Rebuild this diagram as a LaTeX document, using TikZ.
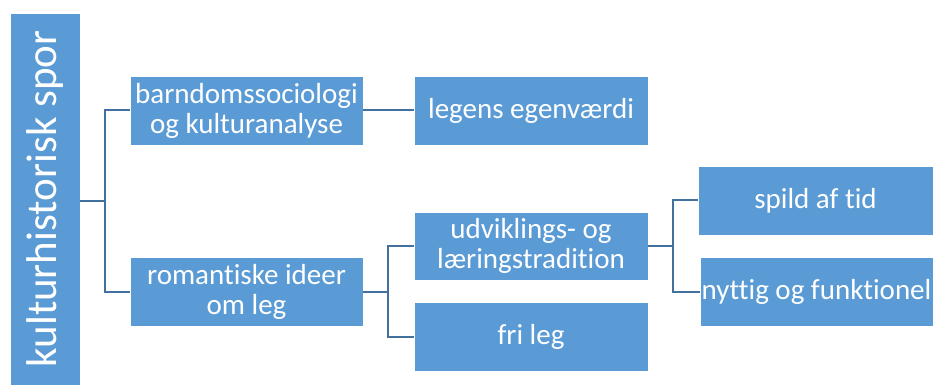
\documentclass[tikz,border=0pt]{standalone}
\usepackage{fontspec}
\setmainfont{Carlito}[Ligatures={NoCommon}]
\definecolor{boxblue}{HTML}{5B9BD5}
\definecolor{linkblue}{HTML}{41719C}
\begin{document}
\begin{tikzpicture}[x=1pt,y=-1pt,
  box/.style={rectangle, fill=boxblue, draw=white, line width=0.8pt, text=white, align=center,
    font=\fontsize{29}{30}\selectfont, inner sep=0pt},
  wbox/.style={box, minimum width=234pt, minimum height=69pt},
  link/.style={draw=linkblue, line width=2pt}]
\useasboundingbox (0,0) rectangle (935,385);
\node[box, minimum width=70pt, minimum height=372pt] (root) at (45,199) {};
\node[text=white, rotate=90, font=\fontsize{43}{46}\selectfont, inner sep=0pt] (roottext) at (root.center) {kulturhistorisk spor};
\node[wbox, minimum width=233pt] (b1) at (246.5,110.5) {barndomssociologi\\og kulturanalyse};
\node[wbox, minimum width=233pt] (b2) at (246.5,291.5) {romantiske ideer\\om leg};
\node[wbox] (legens) at (531,110.5) {legens egenværdi};
\node[wbox, minimum height=68pt] (udv) at (531,246) {udviklings- og\\læringstradition};
\node[wbox] (fri) at (531,336.5) {fri leg};
\node[wbox, minimum width=235pt] (spild) at (815.5,200.5) {spild af tid};
\node[wbox, minimum width=233pt] (nyttig) at (816.5,291.5) {nyttig og funktionel};
\coordinate (j1) at (105,201);
\coordinate (j2) at (388,291.5);
\coordinate (j3) at (673,246);
\draw[link] (root.east |- j1) -- (j1);
\draw[link] (b1.west) -| (j1) |- (b2.west);
\draw[link] (b1.east) -- (legens.west);
\draw[link] (b2.east) -- (j2);
\draw[link] (udv.west) -| (j2) |- (fri.west);
\draw[link] (udv.east) -- (j3);
\draw[link] (spild.west) -| (j3) |- (nyttig.west);
\end{tikzpicture}
\end{document}
